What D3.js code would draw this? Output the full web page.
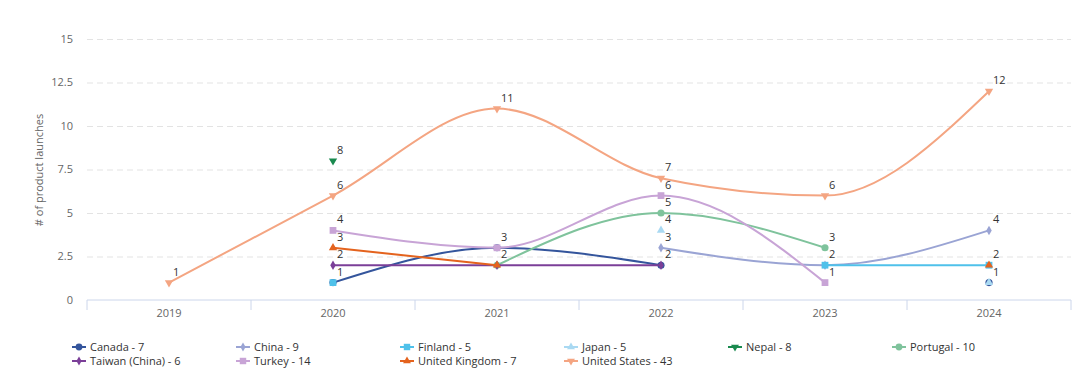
<!DOCTYPE html>
<html>
<head>
<meta charset="utf-8">
<script src="https://cdn.jsdelivr.net/npm/d3@7"></script>
<style>
  body { margin: 0; background: #fff; }
  svg { font-family: "Open Sans", "Noto Sans", sans-serif; }
  .grid line { stroke: #e3e3e3; stroke-dasharray: 6,4; }
  .grid path { display: none; }
</style>
</head>
<body>
<div id="chart"></div>
<script>
const years = ["2019", "2020", "2021", "2022", "2023", "2024"];
const yTicks = [0, 2.5, 5, 7.5, 10, 12.5, 15];

const names   = ["Canada", "China", "Finland", "Japan", "Nepal", "Portugal", "Taiwan (China)", "Turkey", "United Kingdom", "United States"];
const colors  = ["#34559c", "#9aa4d4", "#4fc1ea", "#a9d9f2", "#1a8a4f", "#7fc39c", "#7b3f98", "#c8a4d6", "#e4631e", "#f4a582"];
const symbols = ["circle", "diamond", "square", "triangle", "triangleDown", "circle", "diamond", "square", "triangle", "triangleDown"];

// values per year, null = no launches recorded
const canada   = [null, 1, 3, 2, null, 1];
const china    = [null, null, null, 3, 2, 4];
const finland  = [null, 1, null, null, 2, 2];
const japan    = [null, null, null, 4, null, 1];
const nepal    = [null, 8, null, null, null, null];
const portugal = [null, null, 2, 5, 3, null];
const taiwan   = [null, 2, 2, 2, null, null];
const turkey   = [null, 4, 3, 6, 1, null];
const uk       = [null, 3, 2, null, null, 2];
const us       = [1, 6, 11, 7, 6, 12];

const values = [canada, china, finland, japan, nepal, portugal, taiwan, turkey, uk, us];

const W = 1080, H = 374;
const margin = {top: 39, right: 9, bottom: 74, left: 87};
const width = W - margin.left - margin.right,
      height = H - margin.top - margin.bottom;

const svg = d3.select("#chart").append("svg")
  .attr("width", W).attr("height", H);

const g = svg.append("g").attr("transform", "translate(" + margin.left + "," + margin.top + ")");

const x = d3.scaleBand().domain(years).range([0, width]);
const y = d3.scaleLinear().domain([0, 15]).range([height, 0]);

// gridlines
g.append("g").attr("class", "grid")
  .call(d3.axisLeft(y).tickValues(yTicks.slice(1)).tickSize(-width).tickFormat(""));

// y tick labels
g.selectAll(".ylab").data(yTicks).enter().append("text")
  .attr("x", -14).attr("y", d => y(d)).attr("dy", "0.35em")
  .attr("text-anchor", "end").style("font-size", "11px").style("fill", "#666")
  .text(d => d);

g.append("text")
  .attr("transform", "rotate(-90)")
  .attr("x", -131).attr("y", -44)
  .attr("text-anchor", "middle").style("font-size", "11px").style("fill", "#666")
  .text("# of product launches");

// x axis
const xAxis = g.append("g").attr("transform", "translate(0," + height + ")");
xAxis.append("line").attr("x1", 0).attr("x2", width).attr("stroke", "#ccd6eb");
const bounds = years.map(d => x(d)).concat([width]);
xAxis.selectAll(".tick").data(bounds).enter().append("line")
  .attr("x1", d => d).attr("x2", d => d).attr("y1", 0).attr("y2", 10)
  .attr("stroke", "#ccd6eb");
xAxis.selectAll(".xlab").data(years).enter().append("text")
  .attr("x", d => x(d) + x.bandwidth() / 2).attr("y", 17)
  .attr("text-anchor", "middle").style("font-size", "11px").style("fill", "#666")
  .text(d => d);

const cx = i => x(years[i]) + x.bandwidth() / 2;

const symType = {
  circle: d3.symbolCircle, diamond: d3.symbolDiamond, square: d3.symbolSquare,
  triangle: d3.symbolTriangle, triangleDown: d3.symbolTriangle
};
const symSize = {circle: 40, diamond: 26, square: 46, triangle: 30, triangleDown: 30};
function symPath(s, scale) {
  return d3.symbol().type(symType[s]).size(symSize[s] * scale)();
}
function symTransform(s, px, py) {
  return "translate(" + px + "," + py + ")" + (s === "triangleDown" ? " rotate(180)" : "");
}

const line = d3.line()
  .defined(d => d.v != null)
  .x(d => cx(d.i)).y(d => y(d.v))
  .curve(d3.curveMonotoneX);

names.forEach((n, k) => {
  const pts = values[k].map((v, i) => ({v: v, i: i}));
  g.append("path").datum(pts)
    .attr("d", line).attr("fill", "none")
    .attr("stroke", colors[k]).attr("stroke-width", 2);
  g.selectAll(".pt" + k).data(pts.filter(d => d.v != null)).enter().append("path")
    .attr("d", symPath(symbols[k], 1))
    .attr("transform", d => symTransform(symbols[k], cx(d.i), y(d.v)))
    .attr("fill", colors[k]);
});

// data labels, one per year and value
const seen = {};
names.forEach((n, k) => {
  values[k].forEach((v, i) => {
    if (v == null) return;
    const key = i + "_" + v;
    if (seen[key]) return;
    seen[key] = true;
    g.append("text")
      .attr("x", cx(i) + 4).attr("y", y(v) - 7)
      .style("font-size", "11px").style("fill", "#333")
      .text(v);
  });
});

// legend
const legend = svg.append("g");
names.forEach((n, k) => {
  const col = k % 6, row = Math.floor(k / 6);
  const lx = 72 + col * 164, ly = 347 + row * 14;
  const total = d3.sum(values[k].filter(v => v != null));
  legend.append("line")
    .attr("x1", lx).attr("x2", lx + 14).attr("y1", ly).attr("y2", ly)
    .attr("stroke", colors[k]).attr("stroke-width", 2);
  legend.append("path")
    .attr("d", symPath(symbols[k], 0.9))
    .attr("transform", symTransform(symbols[k], lx + 7, ly))
    .attr("fill", colors[k]);
  legend.append("text")
    .attr("x", lx + 18).attr("y", ly).attr("dy", "0.35em")
    .style("font-size", "11px").style("fill", "#333")
    .text(n + " - " + total);
});
</script>
</body>
</html>
